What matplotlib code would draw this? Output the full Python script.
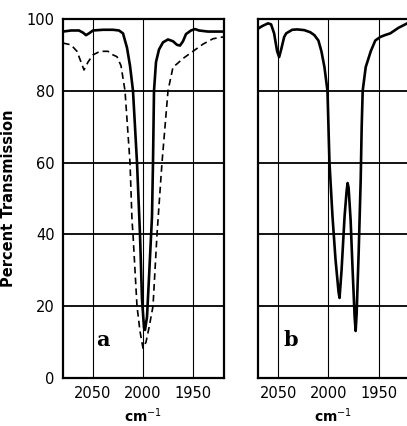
import matplotlib
matplotlib.use("Agg")
import matplotlib.pyplot as plt

# Panel a, solid trace
a_solid_wn = [2080, 2072, 2064, 2060, 2057, 2054, 2050, 2040, 2030, 2024, 2020, 2016, 2013, 2010,
              2006, 2003, 2001, 1999, 1998, 1996, 1994, 1991, 1990, 1989, 1987, 1984, 1980, 1975,
              1970, 1966, 1963, 1960, 1957, 1952, 1948, 1944, 1935, 1920]
a_solid_t = [96.5, 96.8, 96.8, 96.2, 95.5, 96.0, 96.8, 97.0, 97.0, 96.8, 96.0, 92.0, 87.0, 80.0,
             60.0, 40.0, 22.0, 14.0, 13.4, 17.0, 28.0, 45.0, 60.0, 80.0, 88.0, 91.5, 93.5, 94.3,
             93.8, 92.8, 92.6, 93.8, 95.8, 96.8, 97.2, 96.8, 96.5, 96.5]

# Panel a, dashed trace
a_dash_wn = [2080, 2072, 2066, 2062, 2059, 2055, 2050, 2043, 2035, 2030, 2026, 2022, 2018, 2013,
             2011, 2010, 2006, 2003, 2000, 1997, 1994, 1990, 1986, 1985, 1981, 1975, 1970, 1966,
             1960, 1950, 1940, 1930, 1920]
a_dash_t = [93.3, 92.8, 91.0, 88.0, 85.8, 88.0, 90.0, 91.0, 91.0, 90.0, 89.5, 87.0, 80.0, 60.0,
            44.0, 40.0, 20.0, 13.0, 8.3, 10.0, 14.0, 20.0, 40.0, 44.0, 60.0, 80.0, 86.6, 87.5,
            89.0, 91.0, 93.0, 94.5, 95.0]

# Panel b, solid trace
b_wn = [2070, 2066, 2060, 2057, 2054, 2051, 2049, 2047, 2044, 2042, 2036, 2031, 2024, 2018, 2014,
        2010, 2007, 2004, 2001, 1999, 1996, 1993, 1990, 1989, 1987, 1984, 1982, 1981, 1980, 1978,
        1976, 1974, 1973, 1972, 1970, 1968, 1967, 1966, 1963, 1958, 1953.5, 1948.5, 1944, 1938.6,
        1930.7, 1921]
b_t = [97.3, 98.0, 98.8, 98.5, 96.0, 91.0, 89.4, 91.5, 95.0, 96.0, 97.0, 97.1, 96.9, 96.3, 95.5,
       94.0, 91.0, 86.6, 80.0, 60.0, 45.0, 33.0, 24.0, 22.3, 30.0, 45.0, 52.0, 54.3, 53.0, 44.0,
       30.0, 17.0, 13.1, 18.0, 35.0, 55.0, 70.0, 80.0, 86.6, 91.0, 94.0, 95.0, 95.5, 96.0,
       97.5, 98.9]

x_ticks = [2050, 2000, 1950]
y_ticks = [0, 20, 40, 60, 80, 100]
panel_labels = ["a", "b"]

fig = plt.figure(figsize=(4.07, 4.26), dpi=100)
ax_a = fig.add_axes([63/407, 1-378/426, (224-63)/407, (378-19)/426])
ax_b = fig.add_axes([258/407, 1-378/426, (409-258)/407, (378-19)/426])

ax_a.plot(a_solid_wn, a_solid_t, color="black", lw=1.9, solid_joinstyle="round")
ax_a.plot(a_dash_wn, a_dash_t, color="black", lw=1.2, dashes=(4, 2.5))
ax_b.plot(b_wn, b_t, color="black", lw=1.9, solid_joinstyle="round")

ax_a.set_xlim(2080, 1919)
ax_b.set_xlim(2070, 1920)

label_pos = {"a": (0.25, 0.106), "b": (0.215, 0.106)}
for ax, lab in zip([ax_a, ax_b], panel_labels):
    ax.set_ylim(0, 100)
    ax.set_xticks(x_ticks)
    ax.set_yticks(y_ticks)
    for v in [20, 40, 60, 80]:
        ax.axhline(v, color="black", lw=1.3, zorder=0)
    for v in x_ticks:
        ax.axvline(v, color="black", lw=0.8, zorder=0)
    for s in ax.spines.values():
        s.set_linewidth(1.6)
    ax.tick_params(length=0, labelsize=10.5, pad=6)
    for t in ax.get_xticklabels() + ax.get_yticklabels():
        t.set_fontweight("medium")
    ax.set_xlabel("cm$^{-1}$", fontsize=10, labelpad=4, fontweight="bold")
    px, py = label_pos[lab]
    ax.text(px, py, lab, transform=ax.transAxes, fontsize=15,
            fontweight="bold", family="DejaVu Serif", ha="center", va="center")

ax_b.spines["right"].set_visible(False)
ax_b.set_yticklabels([])
ax_a.set_ylabel("Percent Transmission", fontsize=10.5, fontweight="bold", labelpad=8)

fig.savefig("out.png", dpi=100)
